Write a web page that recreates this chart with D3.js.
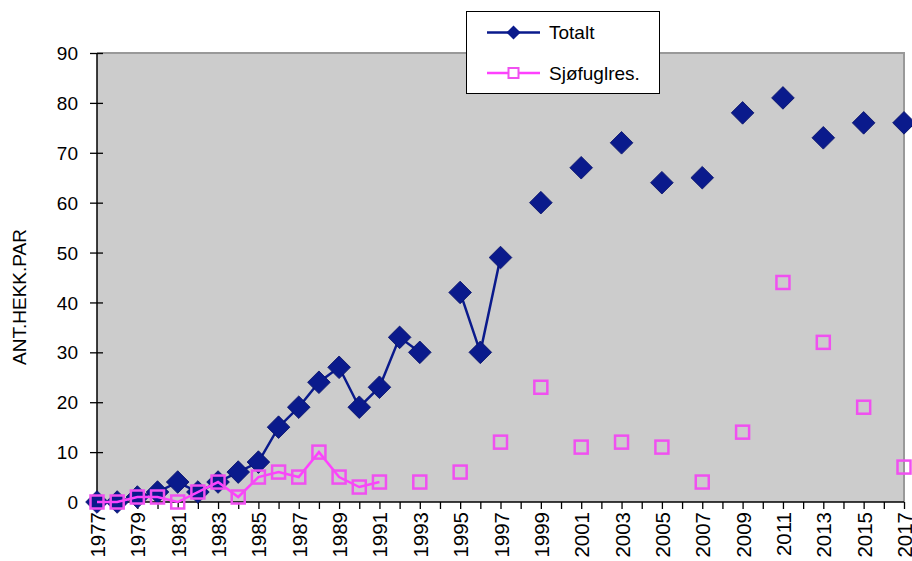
<!DOCTYPE html>
<html>
<head>
<meta charset="utf-8">
<script src="https://cdn.jsdelivr.net/npm/d3@7"></script>
<style>
  html, body { margin: 0; padding: 0; background: #ffffff; }
  svg { display: block; }
  text { font-family: "Liberation Sans", Arial, sans-serif; fill: #000; }
</style>
</head>
<body>
<svg id="chart" width="912" height="561"></svg>
<script>
// ---- data ----
const years = d3.range(1977, 2018);
const totalt = [0, 0, 1, 2, 4, 2, 4, 6, 8, 15, 19, 24, 27, 19, 23, 33, 30, null, 42, 30, 49, null, 60, null, 67, null, 72, null, 64, null, 65, null, 78, null, 81, null, 73, null, 76, null, 76];
const sjofugl = [0, 0, 1, 1, 0, 2, 4, 1, 5, 6, 5, 10, 5, 3, 4, null, 4, null, 6, null, 12, null, 23, null, 11, null, 12, null, 11, null, 4, null, 14, null, 44, null, 32, null, 19, null, 7];
const yTicks = [0, 10, 20, 30, 40, 50, 60, 70, 80, 90];
const yearLabels = years.filter(y => (y - 1977) % 2 === 0);
const seriesNames = ["Totalt", "Sjøfuglres."];
const yTitle = "ANT.HEKK.PAR";

// ---- layout ----
const svg = d3.select("#chart");
const pL = 97, pR = 904, pT = 53, pB = 502;

const x = d3.scalePoint().domain(years).range([pL, pR]);
const y = d3.scaleLinear().domain([0, 90]).range([pB, pT]);

// plot background
svg.append("rect").attr("x", pL).attr("y", pT)
  .attr("width", pR - pL).attr("height", pB - pT)
  .attr("fill", "#cccccc");
// top & right border
svg.append("path")
  .attr("d", `M${pL},${pT}H${pR}V${pB}`)
  .attr("fill", "none").attr("stroke", "#999999").attr("stroke-width", 2);

// y axis
const yAxis = d3.axisLeft(y).tickValues(yTicks).tickSize(0).tickPadding(0);
const gy = svg.append("g").attr("transform", `translate(${pL},0)`).call(yAxis);
gy.select(".domain").remove();
gy.selectAll(".tick text").remove();
gy.selectAll(".tick").append("line").attr("x1", -7).attr("x2", 6)
  .attr("stroke", "#000").attr("stroke-width", 1.3);
gy.selectAll(".tick").append("text")
  .attr("x", -19).attr("dy", "0.35em").attr("text-anchor", "end")
  .style("font-size", "19px").text(d => d);
svg.append("line").attr("x1", pL).attr("x2", pL).attr("y1", pT).attr("y2", pB)
  .attr("stroke", "#000").attr("stroke-width", 1.5);

// x axis
const xAxis = d3.axisBottom(x).tickSize(0).tickFormat("");
const gx = svg.append("g").attr("transform", `translate(0,${pB})`).call(xAxis);
gx.select(".domain").remove();
gx.selectAll(".tick text").remove();
gx.selectAll(".tick").append("line").attr("y1", 0).attr("y2", 7)
  .attr("stroke", "#000").attr("stroke-width", 1.3);
gx.selectAll(".tick").filter(d => yearLabels.includes(d)).append("text")
  .attr("transform", "rotate(-90)")
  .attr("x", -10).attr("y", 7.5).attr("text-anchor", "end")
  .style("font-size", "20.5px").text(d => d);
svg.append("line").attr("x1", pL).attr("x2", pR).attr("y1", pB).attr("y2", pB)
  .attr("stroke", "#000").attr("stroke-width", 1.5);

// y title
svg.append("text")
  .attr("transform", `translate(26,297) rotate(-90)`)
  .attr("text-anchor", "middle").style("font-size", "19px").text(yTitle);

// series
const totData = years.map((yr, i) => ({ yr, v: totalt[i] }));
const sjoData = years.map((yr, i) => ({ yr, v: sjofugl[i] }));
const line = d3.line().defined(d => d.v != null).x(d => x(d.yr)).y(d => y(d.v));

const navy = "#0a1a8c";
const magenta = "#ff40ff";

svg.append("path").datum(totData).attr("d", line)
  .attr("fill", "none").attr("stroke", navy).attr("stroke-width", 2.5);

svg.append("g").selectAll("rect").data(totData.filter(d => d.v != null)).join("rect")
  .attr("x", -8).attr("y", -8).attr("width", 16).attr("height", 16)
  .attr("transform", d => `translate(${x(d.yr)},${y(d.v)}) rotate(45)`)
  .attr("fill", navy).attr("stroke", "#08126a").attr("stroke-width", 0.8);

svg.append("path").datum(sjoData).attr("d", line)
  .attr("fill", "none").attr("stroke", magenta).attr("stroke-width", 2.5);

svg.append("g").selectAll("rect").data(sjoData.filter(d => d.v != null)).join("rect")
  .attr("x", d => x(d.yr) - 6.5).attr("y", d => y(d.v) - 6.5)
  .attr("width", 13).attr("height", 13)
  .attr("fill", "none").attr("stroke", "#f050f0").attr("stroke-width", 2.5);

// legend
const lg = svg.append("g");
lg.append("rect").attr("x", 466.5).attr("y", 11.5).attr("width", 193).attr("height", 82)
  .attr("fill", "#fff").attr("stroke", "#000").attr("stroke-width", 1);
const legendItems = [
  { name: seriesNames[0], color: navy, yy: 32.5, marker: "diamond" },
  { name: seriesNames[1], color: magenta, yy: 73, marker: "square" }
];
legendItems.forEach(it => {
  lg.append("line").attr("x1", 487).attr("x2", 540).attr("y1", it.yy).attr("y2", it.yy)
    .attr("stroke", it.color).attr("stroke-width", 2.5);
  if (it.marker === "diamond") {
    lg.append("rect").attr("x", -5).attr("y", -5).attr("width", 10).attr("height", 10)
      .attr("transform", `translate(513.5,${it.yy}) rotate(45)`).attr("fill", navy);
  } else {
    lg.append("rect").attr("x", 508.5).attr("y", it.yy - 5).attr("width", 10).attr("height", 10)
      .attr("fill", "#fff").attr("stroke", "#f050f0").attr("stroke-width", 2);
  }
  lg.append("text").attr("x", 549).attr("y", it.yy + 6.5)
    .style("font-size", "19px").text(it.name);
});
</script>
</body>
</html>
